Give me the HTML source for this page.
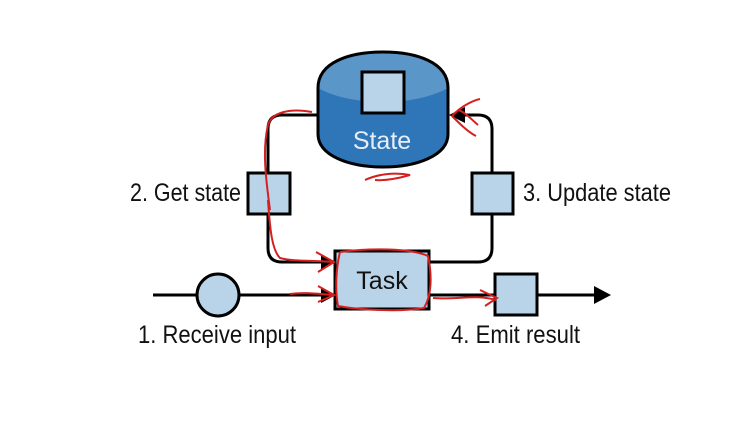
<!DOCTYPE html>
<html><head><style>html,body{margin:0;padding:0;background:#fff;}svg{display:block}</style></head>
<body>
<svg width="748" height="430" viewBox="0 0 748 430" xmlns="http://www.w3.org/2000/svg" font-family="'Liberation Sans Narrow','Liberation Sans',sans-serif">
<rect width="748" height="430" fill="#fff"/>
<!-- connectors -->
<path d="M318 115 H282 Q268 115 268 129 V248 Q268 262 282 262 H322" fill="none" stroke="#000" stroke-width="3"/>
<polygon points="336,262 321,254 321,270" fill="#000"/>
<path d="M430 262 H478 Q492 262 492 248 V129 Q492 115 478 115 H462" fill="none" stroke="#000" stroke-width="3"/>
<polygon points="449,115 465,107 465,123" fill="#000"/>
<line x1="153" y1="295" x2="596" y2="295" stroke="#000" stroke-width="3"/>
<polygon points="611,295 594,286 594,304" fill="#000"/>
<polygon points="336,295 321,287 321,303" fill="#000"/>
<!-- cylinder -->
<path d="M318 88 C318 62 350 52 383 52 C416 52 448 62 448 88 V134 C448 156 416 167 383 167 C350 167 318 156 318 134 Z" fill="#2f76b8"/>
<path d="M318 88 C318 62 350 52 383 52 C416 52 448 62 448 88 C430 98 405 102 383 102 C361 102 336 98 318 88 Z" fill="#5b96c8"/>
<path d="M318 88 C318 62 350 52 383 52 C416 52 448 62 448 88 V134 C448 156 416 167 383 167 C350 167 318 156 318 134 Z" fill="none" stroke="#000" stroke-width="3"/>
<rect x="362" y="72" width="42" height="41" fill="#b9d3e8" stroke="#000" stroke-width="3"/>
<text x="382" y="149" font-size="25" fill="#e6eef8" text-anchor="middle">State</text>
<!-- squares -->
<rect x="248" y="173" width="42" height="41" fill="#b9d3e8" stroke="#000" stroke-width="3"/>
<rect x="472" y="173" width="41" height="41" fill="#b9d3e8" stroke="#000" stroke-width="3"/>
<rect x="335" y="251" width="94" height="58" fill="#b9d3e8" stroke="#000" stroke-width="3"/>
<text x="382" y="289" font-size="25" fill="#111" text-anchor="middle">Task</text>
<circle cx="218" cy="295" r="21" fill="#b9d3e8" stroke="#000" stroke-width="3"/>
<rect x="495" y="274" width="42" height="41" fill="#b9d3e8" stroke="#000" stroke-width="3"/>
<!-- labels -->
<text x="130" y="201" font-size="25" fill="#111" textLength="111" lengthAdjust="spacingAndGlyphs">2. Get state</text>
<text x="523" y="201" font-size="25" fill="#111" textLength="148" lengthAdjust="spacingAndGlyphs">3. Update state</text>
<text x="138" y="343" font-size="25" fill="#111" textLength="158" lengthAdjust="spacingAndGlyphs">1. Receive input</text>
<text x="451" y="343" font-size="25" fill="#111" textLength="129" lengthAdjust="spacingAndGlyphs">4. Emit result</text>
<!-- red annotations -->
<g fill="none" stroke="#d62020" stroke-width="2">
<path d="M270 210 C266 180 262 150 268 125 C272 112 290 108 312 112"/>
<path d="M268 200 C270 230 272 250 280 258 C295 262 315 260 332 262"/>
<path d="M316 252 L334 262 L318 272"/>
<path d="M290 294 C305 292 318 294 334 295 M318 286 L334 295 L318 302"/>
<path d="M340 252 C370 248 410 248 428 256 C432 275 432 295 424 308 C400 312 360 310 338 306 C335 290 336 268 340 252"/>
<path d="M433 298 C455 300 475 294 496 300 M480 290 L497 298 L485 306"/>
<path d="M452 116 C462 105 475 100 480 99 M452 116 C460 124 468 132 476 136 M458 110 C465 112 470 118 478 125"/>
<path d="M365 180 C378 174 395 172 410 175 C400 178 385 181 375 180"/>
</g>
</svg>
</body></html>
